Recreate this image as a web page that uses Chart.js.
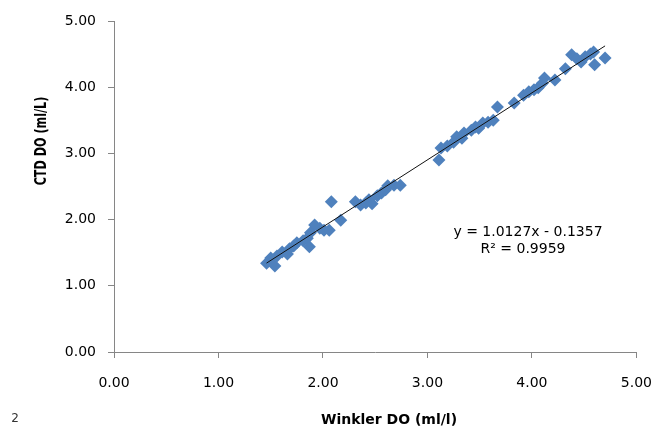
<!DOCTYPE html>
<html>
<head>
<meta charset="utf-8">
<script src="https://cdn.jsdelivr.net/npm/chart.js@4/dist/chart.umd.min.js"></script>
<style>
  html, body { margin: 0; padding: 0; background: #fff; }
  #wrap { width: 669px; height: 434px; }
</style>
</head>
<body>
<div id="wrap"><canvas id="myChart" width="669" height="434"></canvas></div>
<script>
// Winkler titration DO vs CTD sensor DO (ml/l)
let winklerDO = [
    1.46, 1.50, 1.54, 1.56, 1.61, 1.66, 1.68, 1.72, 1.75, 1.81,
    1.85, 1.87, 1.88, 1.92, 1.97, 2.01, 2.06, 2.08, 2.17,
    2.31, 2.36, 2.41, 2.44, 2.47, 2.52, 2.56, 2.60, 2.62, 2.68, 2.74,
    3.11, 3.13, 3.19, 3.25, 3.28, 3.33, 3.35, 3.42, 3.46, 3.49,
    3.53, 3.58, 3.63, 3.67, 3.83,
    3.92, 3.97, 4.02, 4.06, 4.10, 4.12, 4.22, 4.32, 4.38, 4.43,
    4.47, 4.51, 4.56, 4.59, 4.60, 4.70
];
let ctdDO = [
    1.34, 1.42, 1.30, 1.45, 1.51, 1.48, 1.56, 1.60, 1.65, 1.68,
    1.72, 1.59, 1.80, 1.92, 1.87, 1.84, 1.84, 2.27, 1.99,
    2.27, 2.22, 2.25, 2.30, 2.24, 2.36, 2.40, 2.45, 2.51, 2.52, 2.52,
    2.90, 3.08, 3.11, 3.17, 3.25, 3.23, 3.31, 3.35, 3.40, 3.38,
    3.46, 3.47, 3.50, 3.70, 3.76,
    3.88, 3.93, 3.96, 3.99, 4.06, 4.14, 4.11, 4.28, 4.49, 4.43,
    4.38, 4.46, 4.50, 4.53, 4.34, 4.44
];

// linear trendline as reported on the chart
let slope = 1.0127;
let intercept = -0.1357;
let eqText = 'y = 1.0127x - 0.1357';
let r2Text = 'R\u00B2 = 0.9959';

let xTitle = 'Winkler DO (ml/l)';
let yTitle = 'CTD DO (ml/L)';

let points = winklerDO.map(function(x, i) { return { x: x, y: ctdDO[i] }; });
let xMin = Math.min.apply(null, winklerDO);
let xMax = Math.max.apply(null, winklerDO);
let trend = [
    { x: xMin, y: slope * xMin + intercept },
    { x: xMax, y: slope * xMax + intercept }
];

Chart.defaults.font.family = '"DejaVu Sans", sans-serif';
Chart.defaults.color = '#000';

// titles and trendline equation
const textPlugin = {
    id: 'chartText',
    afterDraw(chart) {
        let ctx = chart.ctx;
        ctx.save();
        ctx.fillStyle = '#000';
        ctx.textAlign = 'center';
        ctx.textBaseline = 'middle';

        ctx.font = 'bold 14px "DejaVu Sans"';
        ctx.fillText(xTitle, 389, 420);

        // vertical title is squeezed along its length
        ctx.save();
        ctx.translate(42, 141);
        ctx.rotate(-Math.PI / 2);
        ctx.scale(0.8, 1.15);
        ctx.font = 'bold 14px "DejaVu Sans"';
        ctx.fillText(yTitle, 0, 0);
        ctx.restore();

        ctx.font = '14px "DejaVu Sans"';
        ctx.fillText(eqText, 528, 232);
        ctx.fillText(r2Text, 523, 249);

        ctx.fillStyle = '#333';
        ctx.font = '12px "DejaVu Sans"';
        ctx.fillText('2', 15, 419);
        ctx.restore();
    }
};

let ctx = document.getElementById('myChart').getContext('2d');
let myChart = new Chart(ctx, {
    type: 'scatter',
    data: {
        datasets: [{
            type: 'line',
            label: 'Linear (CTD DO)',
            data: trend,
            borderColor: '#111',
            borderWidth: 1,
            pointRadius: 0,
            fill: false
        }, {
            label: 'CTD DO',
            data: points,
            pointStyle: 'rectRot',
            pointRadius: 6.5,
            backgroundColor: '#4F81BD',
            borderColor: '#4F81BD',
            borderWidth: 0
        }]
    },
    options: {
        responsive: false,
        animation: false,
        layout: {
            padding: { left: 0, top: 21, right: 27, bottom: 0 }
        },
        plugins: {
            legend: { display: false },
            tooltip: { enabled: false }
        },
        scales: {
            x: {
                type: 'linear',
                min: 0,
                max: 5,
                afterFit: function(scale) { scale.height = 82; },
                ticks: {
                    stepSize: 1,
                    padding: 17,
                    font: { size: 14 },
                    callback: function(v) { return v.toFixed(2); }
                },
                grid: {
                    drawOnChartArea: false,
                    tickLength: 6,
                    color: '#868686'
                },
                border: { color: '#868686' }
            },
            y: {
                type: 'linear',
                min: 0,
                max: 5,
                afterFit: function(scale) { scale.width = 114; },
                ticks: {
                    stepSize: 1,
                    padding: 12,
                    font: { size: 14 },
                    callback: function(v) { return v.toFixed(2); }
                },
                grid: {
                    drawOnChartArea: false,
                    tickLength: 6,
                    color: '#868686'
                },
                border: { color: '#868686' }
            }
        }
    },
    plugins: [textPlugin]
});
</script>
</body>
</html>
